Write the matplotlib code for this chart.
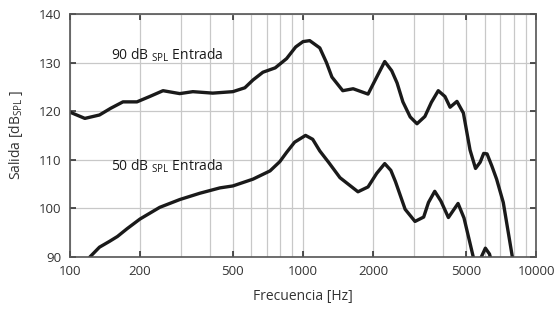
import matplotlib.pyplot as plt
from matplotlib.ticker import FixedLocator, NullFormatter, LogLocator

plt.rcParams['font.family'] = ['Open Sans', 'DejaVu Sans']

# 90 dB SPL input curve
freq_90 = [100, 116, 134, 150, 169, 194, 220, 251, 296, 337, 410, 500, 563, 610,
           673, 760, 850, 930, 1000, 1068, 1180, 1260, 1330, 1480, 1640, 1900,
           2070, 2240, 2400, 2530, 2680, 2880, 3080, 3330, 3550, 3800, 4060,
           4270, 4570, 4870, 5200, 5490, 5750, 5950, 6150, 6450, 6760, 7220, 7960]
out_90 = [119.8, 118.5, 119.2, 120.6, 121.9, 121.9, 123.0, 124.2, 123.6, 124.0,
          123.7, 124.0, 124.8, 126.4, 128.0, 128.9, 130.8, 133.2, 134.3, 134.5,
          133.0, 130.0, 127.0, 124.2, 124.6, 123.5, 127.0, 130.2, 128.3, 125.8,
          121.9, 118.8, 117.4, 118.9, 121.8, 124.2, 123.0, 120.8, 122.0, 119.6,
          112.0, 108.2, 109.5, 111.3, 111.2, 108.7, 106.0, 101.2, 89.0]

# 50 dB SPL input curve
freq_50 = [122, 134, 148, 160, 176, 200, 243, 296, 361, 440, 500, 610, 722,
           795, 850, 920, 1025, 1100, 1180, 1290, 1440, 1720, 1900, 2070, 2240,
           2380, 2490, 2740, 3020, 3290, 3450, 3670, 3900, 4200, 4620, 4900,
           5200, 5490, 5750, 6050, 6300, 6600]
out_50 = [90.0, 92.0, 93.2, 94.2, 95.8, 97.8, 100.2, 101.8, 103.1, 104.2, 104.6,
          106.0, 107.7, 109.6, 111.5, 113.6, 115.0, 114.2, 111.8, 109.4, 106.3,
          103.4, 104.4, 107.2, 109.2, 107.8, 105.5, 99.8, 97.3, 98.2, 101.2,
          103.5, 101.5, 98.1, 101.0, 98.0, 92.8, 88.0, 89.5, 91.8, 90.6, 87.0]

xticks = [100, 200, 500, 1000, 2000, 5000, 10000]
yticks = [90, 100, 110, 120, 130, 140]

fig = plt.figure(figsize=(5.54, 3.16), dpi=100)
ax = fig.add_axes([0.126, 0.187, 0.842, 0.769])

ax.plot(freq_90, out_90, color='#1a1a1a', lw=2.4, solid_joinstyle='round', solid_capstyle='round')
ax.plot(freq_50, out_50, color='#1a1a1a', lw=2.4, solid_joinstyle='round', solid_capstyle='round')

ax.set_xscale('log')
ax.set_xlim(100, 10000)
ax.set_ylim(90, 140)
ax.xaxis.set_major_locator(FixedLocator(xticks))
ax.xaxis.set_minor_locator(LogLocator(base=10, subs=range(2, 10), numticks=20))
ax.xaxis.set_minor_formatter(NullFormatter())
ax.set_xticks(xticks)
ax.set_xticklabels([str(t) for t in xticks])
ax.set_yticks(yticks)

ax.grid(True, which='major', color='#c8c8c8', lw=0.9)
ax.grid(True, which='minor', axis='x', color='#c8c8c8', lw=0.9)
ax.set_axisbelow(True)

ax.tick_params(which='major', direction='in', length=4, width=1.2, top=True, right=True,
               labelsize=9.5, colors='#333333', pad=6)
ax.tick_params(which='minor', length=0)
for s in ax.spines.values():
    s.set_color('#555555')
    s.set_linewidth(1.2)

ax.set_xlabel('Frecuencia [Hz]', fontsize=10, color='#333333', labelpad=8)
ax.set_ylabel('Salida [dB$_{\\mathregular{SPL}}$ ]', fontsize=10, color='#333333', labelpad=10)

ax.text(150, 130.5, '90 dB $_{\\mathregular{SPL}}$ Entrada', fontsize=10, color='#1a1a1a', va='baseline')
ax.text(150, 107.8, '50 dB $_{\\mathregular{SPL}}$ Entrada', fontsize=10, color='#1a1a1a', va='baseline')

fig.savefig('out.png', dpi=100)
